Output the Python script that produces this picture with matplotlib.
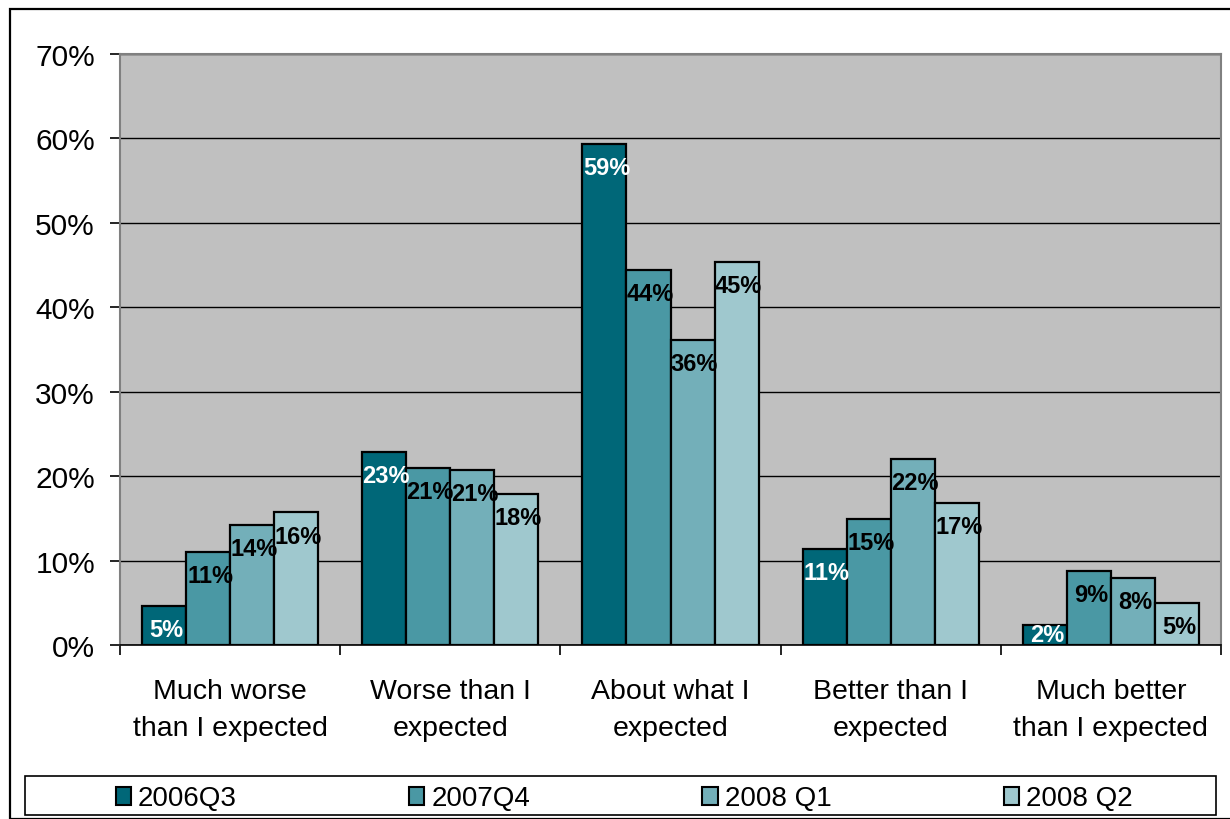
import matplotlib
matplotlib.use("Agg")
import matplotlib.pyplot as plt
from matplotlib.patches import Rectangle, Patch
import numpy as np

plt.rcParams['font.family'] = ['Liberation Sans', 'DejaVu Sans']

categories = ["Much worse\nthan I expected", "Worse than I\nexpected", "About what I\nexpected",
              "Better than I\nexpected", "Much better\nthan I expected"]
series_names = ["2006Q3", "2007Q4", "2008 Q1", "2008 Q2"]
q2006_3 = [4.6, 22.9, 59.3, 11.4, 2.4]
q2007_4 = [11.0, 21.0, 44.4, 14.9, 8.8]
q2008_1 = [14.2, 20.7, 36.1, 22.0, 7.9]
q2008_2 = [15.7, 17.9, 45.4, 16.8, 5.0]
series = [q2006_3, q2007_4, q2008_1, q2008_2]
colors = ["#006778", "#4A98A4", "#73AFB9", "#9FC8CE"]
label_colors = ["white", "black", "black", "black"]
yticks = [0, 10, 20, 30, 40, 50, 60, 70]

W, H = 1230, 820
fig = plt.figure(figsize=(W / 100, H / 100), dpi=100)
fig.patch.set_facecolor("white")

# outer chart border
fig.add_artist(Rectangle((10 / W, 0), 1.5, 1 - 10 / H, transform=fig.transFigure,
                         fill=False, edgecolor="black", lw=1.6))

x0, x1, y0, y1 = 120, 1221, 646, 55
ax = fig.add_axes([x0 / W, 1 - y0 / H, (x1 - x0) / W, (y0 - y1) / H])
ax.set_facecolor("#C0C0C0")

n = len(categories)
x = np.arange(n)
bw = 0.2
for i, (vals, c) in enumerate(zip(series, colors)):
    pos = x + (i - 1.5) * bw
    ax.bar(pos, vals, width=bw, color=c, edgecolor="black", linewidth=1.6, zorder=3)
    for xp, v in zip(pos, vals):
        # value label sits just inside the bar top, kept above the axis for short bars
        ax.annotate(f"{v:.0f}%", (xp, max(v - 2.8, 1.3)), xytext=(2, 0),
                    textcoords="offset pixels", ha="center", va="center",
                    fontsize=17, fontweight="bold", color=label_colors[i], zorder=4)

ax.set_xlim(-0.5, n - 0.5)
ax.set_ylim(0, 70)
ax.set_yticks(yticks)
ax.set_yticklabels([f"{t}%" for t in yticks], fontsize=21.5)
ax.yaxis.grid(True, color="black", lw=1.0, zorder=1)
ax.set_axisbelow(True)

ax.set_xticks(np.arange(n + 1) - 0.5)
ax.set_xticklabels([])
ax.set_xticks(x, minor=True)
ax.set_xticklabels(categories, minor=True, fontsize=20.5, linespacing=1.55)
ax.tick_params(axis="x", which="major", length=7, width=1.2, color="black", direction="out")
ax.tick_params(axis="x", which="minor", length=0, pad=23.5)
ax.tick_params(axis="y", length=7, width=1.2, color="black", pad=11)

for side in ["left", "top", "right"]:
    ax.spines[side].set_color("#808080")
    ax.spines[side].set_linewidth(1.5)
ax.spines["bottom"].set_color("black")
ax.spines["bottom"].set_linewidth(1.2)

# legend frame across the bottom, entries spread evenly inside it
lx0, lx1, ly0, ly1 = 25, 1216, 777, 816
fig.add_artist(Rectangle((lx0 / W, 1 - ly1 / H), (lx1 - lx0) / W, (ly1 - ly0) / H,
                         transform=fig.transFigure, fill=False, edgecolor="black", lw=1.2))
handles = [Patch(facecolor=c, edgecolor="black", lw=1.5) for c in colors]
leg = fig.legend(handles, series_names, loc="center",
                 bbox_to_anchor=((lx0 + lx1) / 2 / W + 0.003, 1 - (ly0 + ly1 + 6) / 2 / H),
                 ncol=4, fontsize=20, frameon=False,
                 handlelength=0.55, handleheight=0.6, handletextpad=0.25,
                 columnspacing=6.2, borderpad=0, borderaxespad=0)

fig.savefig("out.png", dpi=100, facecolor="white")
